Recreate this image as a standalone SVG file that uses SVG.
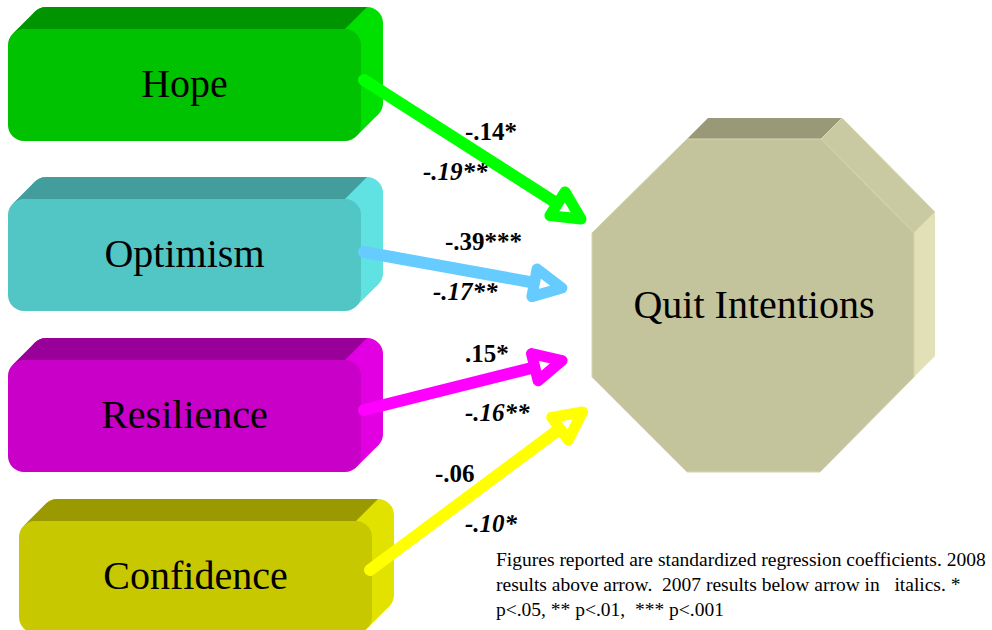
<svg xmlns="http://www.w3.org/2000/svg" width="992" height="630" viewBox="0 0 992 630">
  <style>
    .lbl { font-family: "Liberation Serif", "Times New Roman", serif; font-size: 40px; fill: #000; text-anchor: middle; }
    .coef { font-family: "Liberation Serif", "Times New Roman", serif; font-size: 25px; font-weight: bold; fill: #000; }
    .it { font-style: italic; }
    .note { font-family: "Liberation Serif", "Times New Roman", serif; font-size: 19.5px; fill: #000; white-space: pre; }
    .shaft { fill: none; stroke-width: 12; stroke-linecap: round; }
    .head { fill: #fff; stroke-width: 11; stroke-linejoin: round; }
    .green .face { fill: #00C200; } .green .top { fill: #009400; } .green .side { fill: #00E000; }
    .teal .face { fill: #52C5C5; } .teal .top { fill: #449D9D; } .teal .side { fill: #60E2E2; }
    .mag .face { fill: #C800C8; } .mag .top { fill: #990099; } .mag .side { fill: #E200E2; }
    .olive .face { fill: #C8C800; } .olive .top { fill: #9A9A00; } .olive .side { fill: #E2E200; }
  </style>

  <!-- predictor boxes: 353 x 112 face, extruded by (22,-22) -->
  <g id="hope" class="green" transform="translate(8,29)">
    <rect class="side" x="22" y="-22" width="353" height="112" rx="16"/>
    <path class="top" d="M4.7,4.7 L26.7,-17.3 A16,16 0 0 1 38,-22 L359,-22 L337,0 L16,0 Z"/>
    <polygon class="side" points="348.3,107.3 370.3,85.3 375,74 375,-6 353,16 353,96"/>
    <rect class="face" x="0" y="0" width="353" height="112" rx="16"/>
    <text class="lbl" x="176.5" y="68">Hope</text>
  </g>

  <g id="optimism" class="teal" transform="translate(8,199)">
    <rect class="side" x="22" y="-22" width="353" height="112" rx="16"/>
    <path class="top" d="M4.7,4.7 L26.7,-17.3 A16,16 0 0 1 38,-22 L359,-22 L337,0 L16,0 Z"/>
    <polygon class="side" points="348.3,107.3 370.3,85.3 375,74 375,-6 353,16 353,96"/>
    <rect class="face" x="0" y="0" width="353" height="112" rx="16"/>
    <text class="lbl" x="176.5" y="68">Optimism</text>
  </g>

  <g id="resilience" class="mag" transform="translate(8,360)">
    <rect class="side" x="22" y="-22" width="353" height="112" rx="16"/>
    <path class="top" d="M4.7,4.7 L26.7,-17.3 A16,16 0 0 1 38,-22 L359,-22 L337,0 L16,0 Z"/>
    <polygon class="side" points="348.3,107.3 370.3,85.3 375,74 375,-6 353,16 353,96"/>
    <rect class="face" x="0" y="0" width="353" height="112" rx="16"/>
    <text class="lbl" x="176.5" y="68">Resilience</text>
  </g>

  <g id="confidence" class="olive" transform="translate(19,521)">
    <rect class="side" x="22" y="-22" width="353" height="112" rx="16"/>
    <path class="top" d="M4.7,4.7 L26.7,-17.3 A16,16 0 0 1 38,-22 L359,-22 L337,0 L16,0 Z"/>
    <polygon class="side" points="348.3,107.3 370.3,85.3 375,74 375,-6 353,16 353,96"/>
    <rect class="face" x="0" y="0" width="353" height="112" rx="16"/>
    <text class="lbl" x="176.5" y="68">Confidence</text>
  </g>

  <!-- outcome: extruded octagon -->
  <g id="quit-intentions">
    <polygon points="687,139 708,118 842,118 821,139" fill="#999978"/>
    <polygon points="821,139 842,118 935,212 914,233" fill="#CACAA2" stroke="#DADAB4" stroke-width="1"/>
    <polygon points="914,233 935,212 935,356 914,377" fill="#E1E0B6"/>
    <polygon points="687,139 821,139 914,233 914,377 820,472 687,472 592,377 592,233" fill="#C4C49C" stroke="#D4D4AE" stroke-width="1"/>
    <text class="lbl" x="754" y="318">Quit Intentions</text>
  </g>

  <!-- paths with coefficients -->
  <g id="connectors">
    <g stroke="#00FF00">
      <path class="shaft" d="M364,80 L557.5,203.8"/>
      <polygon class="head" points="581,219 549.9,215.6 565.1,192"/>
    </g>
    <g stroke="#66CCFF">
      <path class="shaft" d="M364,252 L534.5,282.8"/>
      <polygon class="head" points="562,288 531.9,296.6 537.1,269"/>
    </g>
    <g stroke="#FF00FF">
      <path class="shaft" d="M364,410 L534.8,367.2"/>
      <polygon class="head" points="562,360.5 538.1,380.8 531.5,353.6"/>
    </g>
    <g stroke="#FFFF00">
      <path class="shaft" d="M370,570 L560,428.6"/>
      <polygon class="head" points="582.5,412 568.3,439.9 551.7,417.3"/>
    </g>
  </g>

  <g id="coefficients">
    <text class="coef" x="465" y="140">-.14*</text>
    <text class="coef it" x="423" y="180">-.19**</text>
    <text class="coef" x="445" y="250">-.39***</text>
    <text class="coef it" x="433" y="300">-.17**</text>
    <text class="coef" x="465" y="362">.15*</text>
    <text class="coef it" x="465" y="421">-.16**</text>
    <text class="coef" x="435" y="482">-.06</text>
    <text class="coef it" x="465" y="532">-.10*</text>
  </g>

  <g id="note">
    <text class="note" x="496" y="566">Figures reported are standardized regression coefficients. 2008</text>
    <text class="note" x="496" y="591">results above arrow.  2007 results below arrow in   italics. *</text>
    <text class="note" x="496" y="616">p&lt;.05, ** p&lt;.01,  *** p&lt;.001</text>
  </g>
</svg>
